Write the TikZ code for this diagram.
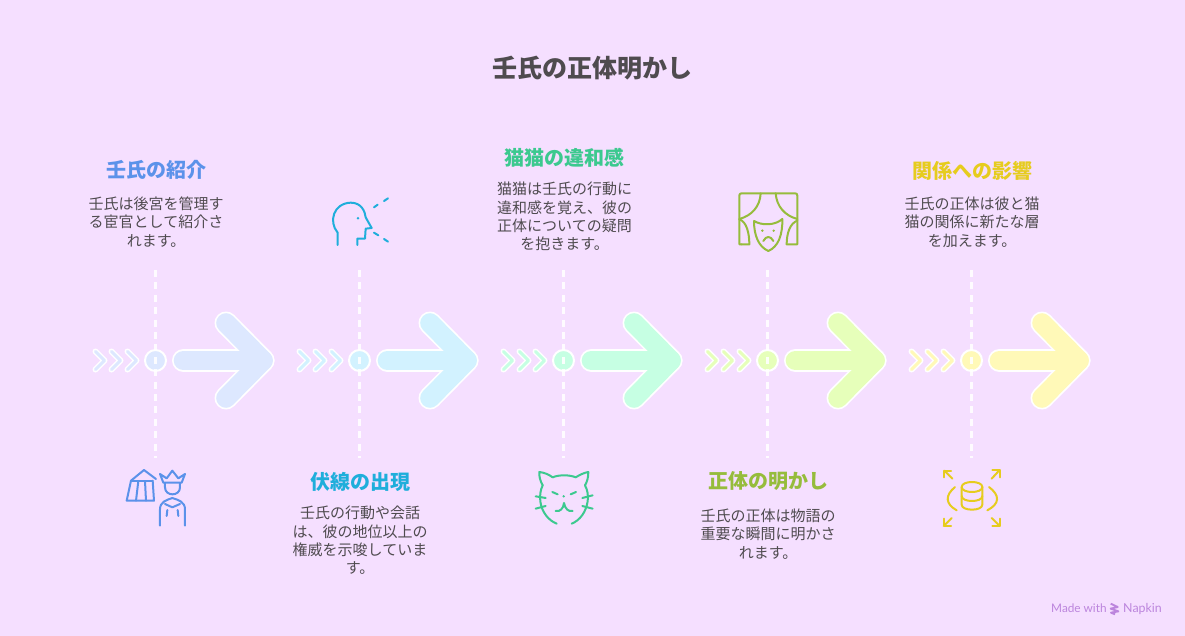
\documentclass[tikz,border=0pt]{standalone}
\usepackage{fontspec}
\setmainfont{Noto Sans CJK JP}
\newfontfamily\latinui{Lato}
\definecolor{bgc}{HTML}{F5DFFF}
\definecolor{inkc}{HTML}{4F4B4F}
\definecolor{ca}{HTML}{5B92EA}\definecolor{cb}{HTML}{1FAEDB}\definecolor{cc}{HTML}{3CC98F}\definecolor{cd}{HTML}{96BC3C}\definecolor{ce}{HTML}{E6CC1E}
\definecolor{fa}{HTML}{DDE8FF}\definecolor{fb}{HTML}{D2F2FF}\definecolor{fc}{HTML}{C6FFE3}\definecolor{fd}{HTML}{E6FFBA}\definecolor{fe}{HTML}{FFF9B8}
\definecolor{napk}{HTML}{BC85DD}
\tikzset{
 heading/.style={inner sep=0pt,font=\fontsize{20}{24}\selectfont\bfseries,anchor=center},
 bodytext/.style={inner sep=0pt,align=center,text=inkc,font=\fontsize{15}{18.4}\selectfont,anchor=center},
 guide/.style={white,opacity=.9,line width=2.2pt,dash pattern=on 7pt off 5.4pt},
 icon/.style={line width=2pt,line cap=round,line join=round},
}
\newcommand{\stagegraphic}[2]{%
 \begin{scope}[shift={(#1,0)}]
  \foreach \d in {0,16,32}{
   \draw[white,line width=6pt,line cap=round,line join=round] (95.5+\d,351.5)--(104.5+\d,360.5)--(95.5+\d,369.5);
   \draw[#2,line width=3pt,line cap=round,line join=round] (95.5+\d,351.5)--(104.5+\d,360.5)--(95.5+\d,369.5);
  }
  \draw[white,line width=2pt,fill=#2] (155.5,360.5) circle (10.5);
  \draw[white,line width=23pt,line cap=round,line join=round] (183.5,360.5)--(263,360.5);
  \draw[white,line width=23pt,line cap=round,line join=round] (226,323)--(263,360.5)--(226,398);
  \draw[#2,line width=19.6pt,line cap=round,line join=round] (183.5,360.5)--(263,360.5);
  \draw[#2,line width=19.6pt,line cap=round,line join=round] (226,323)--(263,360.5)--(226,398);
 \end{scope}}
\begin{document}
\begin{tikzpicture}[x=1pt,y=-1pt]
\useasboundingbox (0,0) rectangle (1185,636);
\fill[bgc] (0,0) rectangle (1185,636);
\node[inner sep=0pt,text=inkc,font=\fontsize{25}{30}\selectfont\bfseries] (title) at (592,68) {壬氏の正体明かし};
\stagegraphic{0}{fa}\stagegraphic{204}{fb}\stagegraphic{408}{fc}\stagegraphic{612}{fd}\stagegraphic{816}{fe}
\foreach \n/\x in {a/155.5,b/359.5,c/563.5,d/767.5,e/971.5}{
 \coordinate (\n top) at (\x,270);
 \coordinate (\n bot) at (\x,458);
 \draw[guide] (\n top)--(\n bot);
}
\node[heading,text=ca] (h1) at (156,169.5) {壬氏の紹介};
\node[bodytext] (b1) at (156,222) {壬氏は後宮を管理す\\る宦官として紹介さ\\れます。};
\node[heading,text=cb] (h2) at (360,481.5) {伏線の出現};
\node[bodytext] (b2) at (360,540.5) {壬氏の行動や会話\\は、彼の地位以上の\\権威を示唆していま\\す。};
\node[heading,text=cc] (h3) at (564,157.5) {猫猫の違和感};
\node[bodytext] (b3) at (564.5,216.5) {猫猫は壬氏の行動に\\違和感を覚え、彼の\\正体についての疑問\\を抱きます。};
\node[heading,text=cd] (h4) at (768,481.5) {正体の明かし};
\node[bodytext] (b4) at (768,534) {壬氏の正体は物語の\\重要な瞬間に明かさ\\れます。};
\node[heading,text=ce] (h5) at (972,170.5) {関係への影響};
\node[bodytext] (b5) at (972,222) {壬氏の正体は彼と猫\\猫の関係に新たな層\\を加えます。};
% icon 1
\begin{scope}[shift={(120,465)},x=.3333pt,y=-.3333pt,icon,ca]
 \draw (33,47)--(72,15)--(108,42);
 \draw (33,47)--(98,47);
 \draw (33,47)--(20,107)--(102,107)--(98,47);
 \draw (55,48)--(48,107);
 \draw (75,48)--(78,107);
\end{scope}
\begin{scope}[shift={(110,460)},x=.3333pt,y=-.3333pt,icon,ca]
 \draw (150,42)--(170,55)--(187,32)--(205,55)--(225,42)--(215,68)--(160,68)--cycle;
 \draw (165,70)--(165,82) .. controls (165,110) and (210,110) .. (210,82)--(210,70);
 \draw (150,197)--(150,148) .. controls (150,125) and (170,120) .. (187,114) .. controls (205,120) and (225,125) .. (225,148)--(225,197);
 \draw (165,132)--(187,142)--(210,132);
 \draw (172,150)--(170,168);
 \draw (203,150)--(205,168);
\end{scope}
% icon 2
\begin{scope}[shift={(320,190)},x=.3333pt,y=-.3333pt,icon,cb]
 \draw (53,165)--(53,128) .. controls (25,95) and (40,40) .. (92,38) .. controls (125,38) and (135,65) .. (137,82)--(155,114)--(137,116)--(135,146)--(112,146)--(112,165);
 \fill (114,85) circle (4);
 \draw (162,52)--(173,44);
 \draw (192,33)--(204,25);
 \draw (162,128)--(175,136);
 \draw (192,147)--(204,155);
\end{scope}
% icon 3
\begin{scope}[shift={(525,462)},x=.3333pt,y=-.3333pt,icon,cc]
 \draw (53,70) .. controls (45,55) and (42,42) .. (43,30) .. controls (60,32) and (72,38) .. (83,46) .. controls (100,38) and (135,38) .. (152,46) .. controls (165,38) and (178,32) .. (190,30) .. controls (190,45) and (187,58) .. (180,70);
 \draw (53,70) .. controls (46,85) and (44,100) .. (46,118) .. controls (50,150) and (70,175) .. (95,185);
 \draw (180,70) .. controls (188,85) and (190,100) .. (188,118) .. controls (183,150) and (165,175) .. (140,185);
 \draw (82,90)--(98,97);
 \draw (137,97)--(153,90);
 \fill (116,103) circle (4);
 \draw (92,147) .. controls (105,150) and (115,140) .. (117,123) .. controls (120,140) and (130,150) .. (143,147);
 \draw (32,103)--(62,108);
 \draw (32,140)--(62,132);
 \draw (172,108)--(203,100);
 \draw (172,132)--(203,140);
\end{scope}
% icon 4
\begin{scope}[shift={(730,185)},x=.3333pt,y=-.3333pt,icon,cd]
 \draw (35,178)--(28,178)--(28,32) .. controls (28,27) and (30,25) .. (35,25)--(195,25) .. controls (200,25) and (202,27) .. (202,32)--(202,178)--(170,178);
 \draw (92,25) .. controls (90,65) and (65,92) .. (28,102);
 \draw (137,25) .. controls (140,65) and (165,92) .. (202,102);
 \draw (28,103) .. controls (50,110) and (58,145) .. (58,178)--(35,178);
 \draw (202,107) .. controls (180,115) and (170,145) .. (170,178);
 \draw (72,108) .. controls (95,122) and (135,122) .. (157,102) .. controls (158,150) and (145,185) .. (115,198) .. controls (85,185) and (72,150) .. (72,108);
 \fill (97,137) circle (4);
 \fill (131,137) circle (4);
 \draw (100,168) .. controls (108,152) and (122,152) .. (130,168);
\end{scope}
% icon 5
\begin{scope}[shift={(935,462)},x=.3333pt,y=-.3333pt,icon,ce]
 \draw (80,75) .. controls (80,55) and (142,55) .. (142,75) .. controls (142,95) and (80,95) .. (80,75);
 \draw (80,75)--(80,128) .. controls (80,148) and (142,148) .. (142,128)--(142,75);
 \draw (80,102) .. controls (80,122) and (142,122) .. (142,102);
 \draw (60,75) .. controls (30,100) and (30,125) .. (65,145);
 \draw (162,75) .. controls (195,100) and (195,125) .. (157,145);
 \draw (52,50)--(28,26); \draw (28,46)--(28,26)--(48,26);
 \draw (170,50)--(194,24); \draw (172,24)--(194,24)--(194,46);
 \draw (50,168)--(26,192); \draw (26,170)--(26,192)--(48,192);
 \draw (170,168)--(194,192); \draw (194,170)--(194,192)--(172,192);
\end{scope}
% napkin
\node[inner sep=0pt,anchor=base west,text=napk,font=\fontsize{11.8}{14}\selectfont\latinui] (mw) at (1051,612) {Made with};
\node[inner sep=0pt,anchor=base west,text=napk,font=\fontsize{12.4}{14}\selectfont\latinui] (np) at (1123,612) {Napkin};
\begin{scope}[shift={(1045,598)},x=.3333pt,y=-.3333pt,napk]
 \draw[line width=1.9pt,line join=round] (197,17)--(218,27)--(197,32)--(220,40)--(198,44)--(210,49);
\end{scope}
\end{tikzpicture}
\end{document}
